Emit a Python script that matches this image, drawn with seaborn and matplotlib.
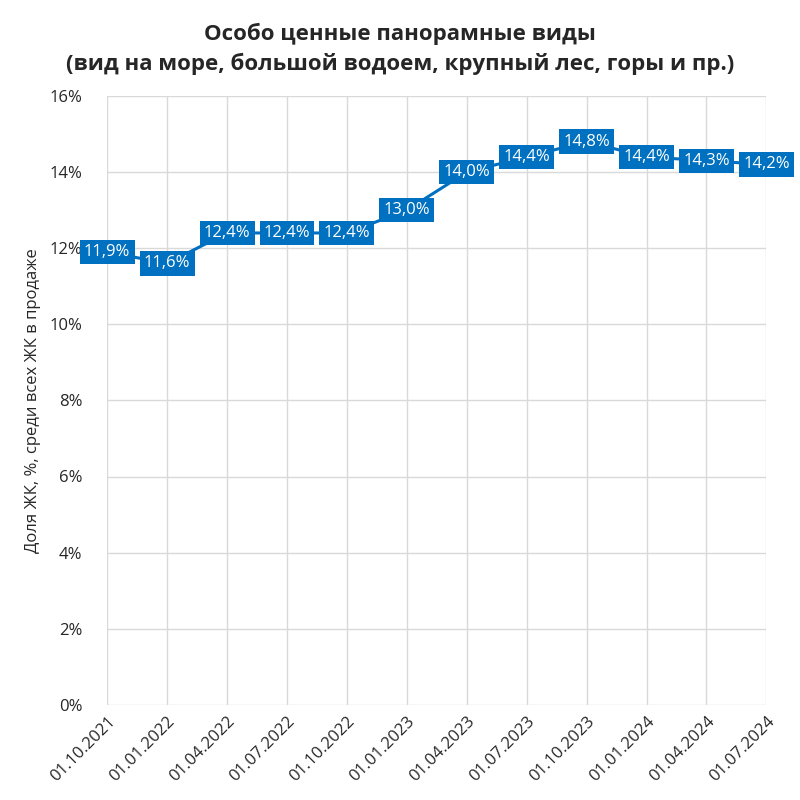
import pandas as pd
import matplotlib.pyplot as plt
import seaborn as sns
from matplotlib.ticker import FuncFormatter

dates = ['01.10.2021', '01.01.2022', '01.04.2022', '01.07.2022', '01.10.2022', '01.01.2023',
         '01.04.2023', '01.07.2023', '01.10.2023', '01.01.2024', '01.04.2024', '01.07.2024']
share = [11.9, 11.6, 12.4, 12.4, 12.4, 13.0, 14.0, 14.4, 14.8, 14.4, 14.3, 14.2]

df = pd.DataFrame({'pos': range(len(dates)), 'date': dates, 'share': share})

sns.set_style('white')
plt.rcParams['font.family'] = ['Open Sans', 'DejaVu Sans']

fig = plt.figure(figsize=(8, 8), dpi=100)
ax = fig.add_axes([0.134, 0.119, 0.824, 0.761])

sns.lineplot(data=df, x='pos', y='share', color='#0070C0', linewidth=2.2, ax=ax)

# Data labels: white text on blue boxes
for _, r in df.iterrows():
    ax.text(r['pos'], r['share'], f"{r['share']:.1f}%".replace('.', ','),
            ha='center', va='center', color='white', fontsize=12,
            bbox=dict(boxstyle='square,pad=0.25', facecolor='#0070C0', edgecolor='none'),
            zorder=5)

ax.set_xlim(0, len(dates) - 1)
ax.set_ylim(0, 16)
ax.set_yticks(range(0, 17, 2))
ax.yaxis.set_major_formatter(FuncFormatter(lambda v, _: f'{int(v)}%'))
ax.set_xticks(df['pos'])
ax.set_xticklabels(dates, rotation=45, ha='right', rotation_mode='anchor', fontsize=12)
ax.tick_params(axis='y', labelsize=12, length=0, pad=18)
ax.tick_params(axis='x', length=0, pad=6)

ax.grid(True, color='#D9D9D9', linewidth=1)
for s in ax.spines.values():
    s.set_visible(False)

ax.set_xlabel('')
ax.set_ylabel('Доля ЖК, %, среди всех ЖК в продаже', fontsize=12, labelpad=6)

fig.suptitle('Особо ценные панорамные виды\n(вид на море, большой водоем, крупный лес, горы и пр.)',
             fontsize=16, fontweight='bold', y=0.972, linespacing=1.5)

fig.savefig('out.png', dpi=100)
